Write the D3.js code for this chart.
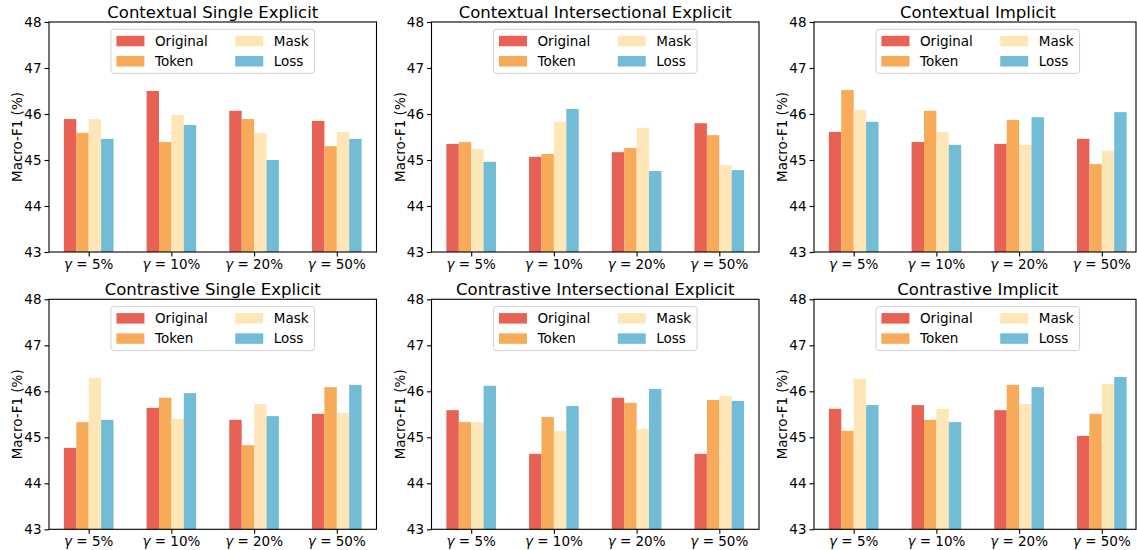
<!DOCTYPE html>
<html>
<head>
<meta charset="utf-8">
<script src="https://cdn.jsdelivr.net/npm/d3@7"></script>
<style>
  html, body { margin: 0; padding: 0; background: #ffffff; }
  svg { display: block; font-family: "DejaVu Sans", sans-serif; }
</style>
</head>
<body>
<svg id="chart" width="1137" height="550"></svg>
<script>
// Sampling ratios on the x axis and the four training variants
const ratios = ["5%", "10%", "20%", "50%"];
const methods = ["Original", "Token", "Mask", "Loss"];
const methodColors = ["#E76254", "#F7AA58", "#FFE6B7", "#72BCD5"];
const yTicks = [43, 44, 45, 46, 47, 48];

// Macro-F1 (%) per panel: one row per method, one value per ratio
const contextualSingleExplicit = [
  [45.89, 46.50, 46.07, 45.85],
  [45.59, 45.39, 45.89, 45.30],
  [45.89, 45.98, 45.59, 45.61],
  [45.46, 45.76, 45.00, 45.46]
];
const contextualIntersectionalExplicit = [
  [45.35, 45.07, 45.17, 45.80],
  [45.39, 45.13, 45.26, 45.54],
  [45.24, 45.83, 45.70, 44.89],
  [44.96, 46.11, 44.76, 44.78]
];
const contextualImplicit = [
  [45.61, 45.39, 45.35, 45.46],
  [46.52, 46.07, 45.87, 44.91],
  [46.09, 45.61, 45.33, 45.20],
  [45.83, 45.33, 45.93, 46.04]
];
const contrastiveSingleExplicit = [
  [44.77, 45.64, 45.38, 45.51],
  [45.33, 45.86, 44.83, 46.09],
  [46.29, 45.40, 45.72, 45.53],
  [45.38, 45.96, 45.46, 46.14]
];
const contrastiveIntersectionalExplicit = [
  [45.59, 44.64, 45.86, 44.64],
  [45.33, 45.44, 45.75, 45.81],
  [45.33, 45.14, 45.18, 45.90],
  [46.12, 45.68, 46.05, 45.79]
];
const contrastiveImplicit = [
  [45.62, 45.70, 45.59, 45.03],
  [45.14, 45.38, 46.14, 45.51],
  [46.27, 45.62, 45.72, 46.16],
  [45.70, 45.33, 46.09, 46.31]
];

const panelTitles = [
  "Contextual Single Explicit", "Contextual Intersectional Explicit", "Contextual Implicit",
  "Contrastive Single Explicit", "Contrastive Intersectional Explicit", "Contrastive Implicit"
];
const panelData = [
  contextualSingleExplicit, contextualIntersectionalExplicit, contextualImplicit,
  contrastiveSingleExplicit, contrastiveIntersectionalExplicit, contrastiveImplicit
];

// Layout
const W = 1137;
const colLeft = [49, 431.5, 814];
const rowTop = [22, 299.3];
const axW = 327.5, axH = 230;
const barW = 0.15;
const fontTick = 13.5, fontTitle = 16.5, fontLegend = 13.5;

const svg = d3.select("#chart");

panelData.forEach((data, p) => {
  const col = p % 3, row = Math.floor(p / 3);
  const left = colLeft[col], top = rowTop[row];
  const right = Math.min(left + axW, W - 1);

  const g = svg.append("g").attr("transform", `translate(${left},${top})`);

  const x = d3.scaleLinear().domain([-0.48, 3.48]).range([0, axW]);
  const y = d3.scaleLinear().domain([43, 48]).range([axH, 0]);

  // bars
  methods.forEach((m, k) => {
    const off = (k - 1.5) * barW;
    g.append("g").selectAll("rect")
      .data(data[k])
      .join("rect")
      .attr("x", (d, i) => x(i + off - barW / 2))
      .attr("width", x(barW) - x(0))
      .attr("y", d => y(d))
      .attr("height", d => y(43) - y(d))
      .attr("fill", methodColors[k]);
  });

  // frame
  g.append("rect")
    .attr("x", 0).attr("y", 0)
    .attr("width", right - left).attr("height", axH)
    .attr("fill", "none").attr("stroke", "#000").attr("stroke-width", 1.1);

  // y axis
  const yAxis = d3.axisLeft(y).tickValues(yTicks).tickSize(4.5).tickPadding(3).tickFormat(d3.format("d"));
  const ya = g.append("g").call(yAxis);
  ya.select(".domain").remove();
  ya.selectAll("line").attr("stroke", "#000").attr("stroke-width", 1.1);
  ya.selectAll("text").attr("font-size", fontTick).attr("fill", "#000")
    .attr("font-family", "DejaVu Sans");

  // x axis: group ticks labelled with the ratio
  const xa = g.append("g").attr("transform", `translate(0,${axH})`)
    .call(d3.axisBottom(x).tickValues(ratios.map((r, i) => i)).tickSize(4.5).tickFormat(""));
  xa.select(".domain").remove();
  xa.selectAll("line").attr("stroke", "#000").attr("stroke-width", 1.1);
  ratios.forEach((r, i) => {
    const t = g.append("text")
      .attr("x", x(i)).attr("y", axH + 17)
      .attr("text-anchor", "middle")
      .attr("font-size", fontTick).attr("fill", "#000");
    t.append("tspan").attr("font-style", "italic").text("γ");
    t.append("tspan").text(" = " + r);
  });

  // y label
  g.append("text")
    .attr("transform", `translate(-32,${axH / 2}) rotate(-90)`)
    .attr("text-anchor", "middle").attr("dominant-baseline", "central")
    .attr("font-size", fontLegend).attr("fill", "#000")
    .text("Macro-F1 (%)");

  // title
  g.append("text")
    .attr("x", axW / 2).attr("y", -4)
    .attr("text-anchor", "middle")
    .attr("font-size", fontTitle).attr("fill", "#000")
    .text(panelTitles[p]);

  // legend (two columns, upper center)
  const lw = 203.6, lh = 44;
  const lg = g.append("g").attr("transform", `translate(${axW / 2 - lw / 2},7.3)`);
  lg.append("rect").attr("width", lw).attr("height", lh)
    .attr("rx", 3).attr("ry", 3)
    .attr("fill", "#ffffff").attr("fill-opacity", 0.8)
    .attr("stroke", "#d0d0d0").attr("stroke-width", 1);
  const colX = [5.5, 124.3];
  const rowY = [11.5, 31.7];
  methods.forEach((m, k) => {
    const c = Math.floor(k / 2), r = k % 2;
    lg.append("rect")
      .attr("x", colX[c]).attr("y", rowY[r] - 5)
      .attr("width", 28).attr("height", 10.5)
      .attr("fill", methodColors[k]);
    lg.append("text")
      .attr("x", colX[c] + 38.5).attr("y", rowY[r])
      .attr("dominant-baseline", "central")
      .attr("font-size", fontLegend).attr("fill", "#000")
      .text(m);
  });
});
</script>
</body>
</html>
